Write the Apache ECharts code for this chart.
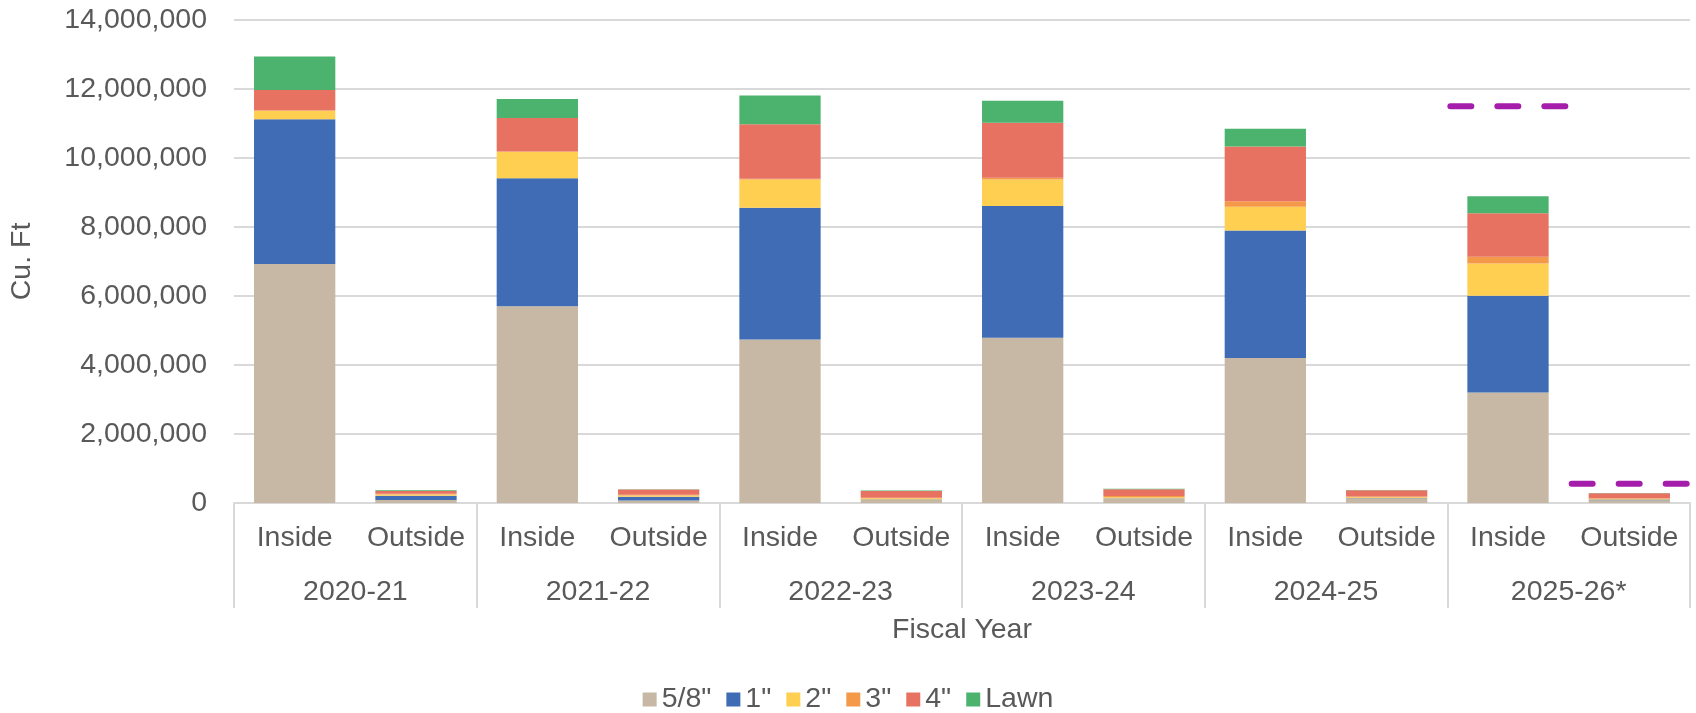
<!DOCTYPE html>
<html>
<head>
<meta charset="utf-8">
<script src="https://cdn.jsdelivr.net/npm/echarts@6/dist/echarts.min.js"></script>
<style>
html,body{margin:0;padding:0;background:#fff;}
#chart{width:1696px;height:713px;}
</style>
</head>
<body>
<div id="chart"></div>
<script>
const categories = ['Inside','Outside','Inside','Outside','Inside','Outside','Inside','Outside','Inside','Outside','Inside','Outside'];
const years = ['2020-21','2021-22','2022-23','2023-24','2024-25','2025-26*'];
const yTicks = [0, 2000000, 4000000, 6000000, 8000000, 10000000, 12000000, 14000000];

const s58   = [6930000, 90000, 5700000, 70000, 4740000, 90000, 4790000, 130000, 4200000, 120000, 3200000, 80000];
const s1    = [4190000, 120000, 3710000, 110000, 3820000, 10000, 3820000, 10000, 3700000, 20000, 2810000, 20000];
const s2    = [260000, 40000, 770000, 40000, 820000, 40000, 770000, 30000, 690000, 30000, 930000, 20000];
const s3    = [0, 20000, 10000, 20000, 20000, 10000, 50000, 30000, 160000, 20000, 200000, 20000];
const s4    = [590000, 80000, 970000, 150000, 1580000, 200000, 1590000, 200000, 1580000, 180000, 1260000, 140000];
const sLawn = [970000, 20000, 550000, 10000, 830000, 10000, 640000, 10000, 520000, 10000, 490000, 10000];
const projection = [null, null, null, null, null, null, null, null, null, null, 11500000, 560000];

const seriesNames = ['5/8"', '1"', '2"', '3"', '4"', 'Lawn'];
const seriesData = [s58, s1, s2, s3, s4, sLawn];
const colors = ['#C6B8A4', '#3F6CB4', '#FFCF52', '#F4994A', '#E87262', '#4CB36F'];

const FONT = '"Liberation Sans", Arial, sans-serif';
const FS = 28.5;
const TXT = '#595959';
const GRID = '#D9D9D9';

const projData = [];
projection.forEach((v, i) => { if (v !== null) projData.push([i, v]); });

const chart = echarts.init(document.getElementById('chart'));
const option = {
  animation: false,
  textStyle: { fontFamily: FONT },
  grid: { left: 220, right: 6, top: 20, bottom: 210, containLabel: false },
  legend: {
    data: seriesNames,
    left: 'center',
    top: 680,
    itemWidth: 14,
    itemHeight: 14,
    itemGap: 15,
    icon: 'rect',
    textStyle: { fontSize: FS, color: TXT, fontFamily: FONT }
  },
  xAxis: [
    {
      type: 'category',
      data: categories,
      position: 'bottom',
      axisLine: { show: true, lineStyle: { color: GRID, width: 2 } },
      axisTick: { show: false },
      axisLabel: { color: TXT, fontSize: FS, fontFamily: FONT, margin: 21, interval: 0 },
      name: 'Fiscal Year',
      nameLocation: 'middle',
      nameGap: 113,
      nameTextStyle: { color: TXT, fontSize: FS, fontFamily: FONT }
    },
    {
      type: 'category',
      data: years,
      position: 'bottom',
      axisLine: { show: false },
      axisTick: { show: true, length: 105, lineStyle: { color: GRID, width: 2 } },
      axisLabel: { color: TXT, fontSize: FS, fontFamily: FONT, margin: 75, interval: 0 }
    }
  ],
  yAxis: {
    type: 'value',
    min: 0,
    max: 14000000,
    interval: 2000000,
    axisLine: { show: false },
    axisTick: { show: false },
    splitLine: { lineStyle: { color: GRID, width: 2 } },
    axisLabel: {
      color: TXT, fontSize: FS, fontFamily: FONT, margin: 27,
      formatter: v => yTicks.includes(v) ? v.toLocaleString('en-US') : ''
    },
    name: 'Cu. Ft',
    nameLocation: 'middle',
    nameGap: 197,
    nameTextStyle: { color: TXT, fontSize: FS, fontFamily: FONT }
  },
  series: seriesNames.map((n, k) => ({
    name: n,
    type: 'bar',
    stack: 'total',
    xAxisIndex: 0,
    barCategoryGap: '33%',
    itemStyle: { color: colors[k] },
    emphasis: { disabled: true },
    data: seriesData[k]
  })).concat([{
    name: 'Projection',
    type: 'custom',
    xAxisIndex: 0,
    z: 10,
    encode: { x: 0, y: 1 },
    data: projData,
    renderItem: function (params, api) {
      const p = api.coord([api.value(0), api.value(1)]);
      const w = api.size([1, 0])[0];
      return {
        type: 'line',
        shape: { x1: p[0] - w / 2 + 3, y1: p[1], x2: p[0] + w / 2, y2: p[1] },
        style: { stroke: '#A51DAB', lineWidth: 6, lineDash: [21, 26], lineCap: 'round', fill: null }
      };
    }
  }])
};
chart.setOption(option);
</script>
</body>
</html>
